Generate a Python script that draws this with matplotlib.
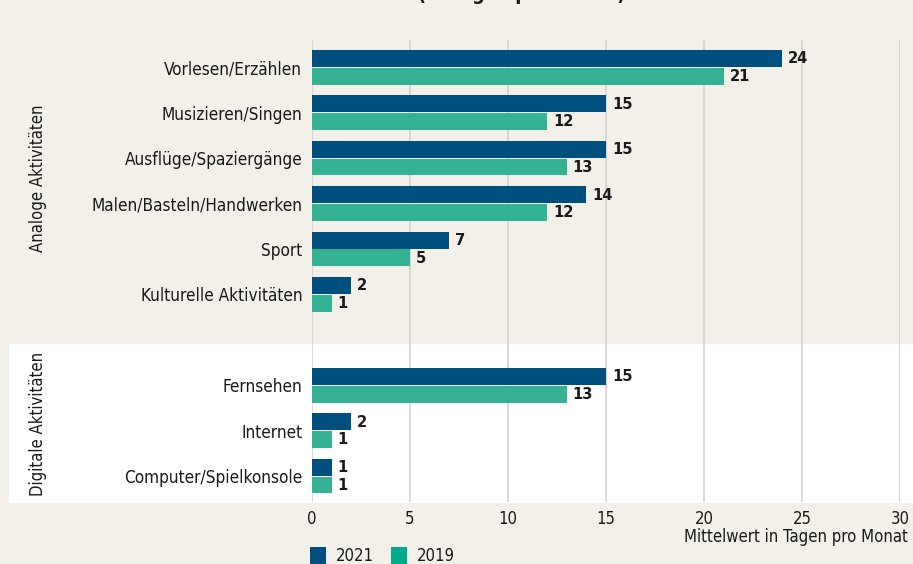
import matplotlib
matplotlib.use("Agg")
import matplotlib.pyplot as plt
from matplotlib.patches import Rectangle
import numpy as np

plt.rcParams['font.family'] = ['DejaVu Sans']
plt.rcParams['font.stretch'] = 'condensed'

categories = ["Vorlesen/Erzählen", "Musizieren/Singen", "Ausflüge/Spaziergänge",
              "Malen/Basteln/Handwerken", "Sport", "Kulturelle Aktivitäten",
              "Fernsehen", "Internet", "Computer/Spielkonsole"]
v2021 = [24, 15, 15, 14, 7, 2, 15, 2, 1]
v2019 = [21, 12, 13, 12, 5, 1, 13, 1, 1]
xticks = [0, 5, 10, 15, 20, 25, 30]
groups = ["Analoge Aktivitäten", "Digitale Aktivitäten"]
series = ["2021", "2019"]

c21 = "#00507f"
c19 = "#33b294"
bg = "#f3f0e9"
txt = "#1a1a1a"
FS = 12

W, H = 913, 564
fig = plt.figure(figsize=(W / 100, H / 100), dpi=100)
fig.patch.set_facecolor(bg)

left, right, top, bottom = 312, 900, 40, 502
ax = fig.add_axes([left / W, 1 - bottom / H, (right - left) / W, (bottom - top) / H])
ax.set_facecolor("none")
ax.set_zorder(2)

pos = np.array([0, 1, 2, 3, 4, 5, 7, 8, 9], dtype=float)
bh = 0.37
ax.set_xlim(0, 30)
ax.set_ylim(9 + 0.57, -0.6)

# white band behind the digital group
band = Rectangle((9 / W, 1 - 503 / H), 1 - 9 / W, (503 - 344) / H,
                 transform=fig.transFigure, facecolor="white", edgecolor="none", zorder=-5)
fig.patches.append(band)

for x in xticks:
    ax.axvline(x, color="#cfcfcf", lw=1.1, zorder=1)

ax.barh(pos - bh / 2 - 0.01, v2021, height=bh, color=c21, zorder=2)
ax.barh(pos + bh / 2 + 0.01, v2019, height=bh, color=c19, zorder=2)
for p, a, b in zip(pos, v2021, v2019):
    ax.text(a + 0.3, p - bh / 2, str(a), va="center", ha="left", fontsize=11.8,
            fontweight="bold", color=txt)
    ax.text(b + 0.3, p + bh / 2 + 0.02, str(b), va="center", ha="left", fontsize=11.8,
            fontweight="bold", color=txt)

ax.set_yticks(pos)
ax.set_yticklabels(categories, fontsize=12.3, color=txt)
ax.set_xticks(xticks)
ax.set_xticklabels([str(x) for x in xticks], fontsize=FS, color=txt)
ax.tick_params(axis="both", length=0)
ax.tick_params(axis="y", pad=7)
ax.tick_params(axis="x", pad=6)
for s in ax.spines.values():
    s.set_visible(False)

fig.text(908 / W, 1 - 537 / H, "Mittelwert in Tagen pro Monat", ha="right", va="center",
         fontsize=FS, color=txt)

fig.text(38 / W, 1 - 178 / H, groups[0], rotation=90, ha="center", va="center",
         fontsize=FS, color=txt)
fig.text(38 / W, 1 - 424 / H, groups[1], rotation=90, ha="center", va="center",
         fontsize=FS, color=txt)

# legend
for xs, col, lab in [(310, c21, series[0]), (391, "#00aa8a", series[1])]:
    fig.patches.append(Rectangle((xs / W, 1 - 564 / H), 16 / W, 17 / H,
                                 transform=fig.transFigure, facecolor=col, edgecolor="none"))
    fig.text((xs + 26) / W, 1 - 556 / H, lab, ha="left", va="center", fontsize=FS,
             color=txt)

# partially visible title (cut at the top edge as in the reference)
fig.text(522 / W, 1.0, "(in Tagen pro Monat)", ha="center", va="baseline",
         fontsize=14, fontweight="bold", color=txt)

fig.savefig("out.png", dpi=100, facecolor=bg)
